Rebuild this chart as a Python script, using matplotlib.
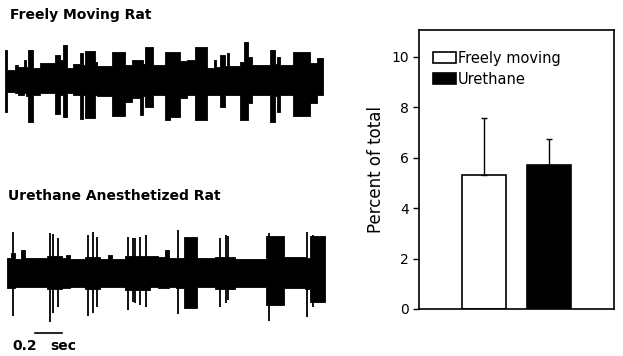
import matplotlib
matplotlib.use("Agg")
import matplotlib.pyplot as plt
import numpy as np

# ---- recordings (time in ms, amplitude in arbitrary units) ----
# freely moving rat: envelope segments (start time, upper, lower)
free_t = [5, 20, 80, 105, 150, 165, 180, 215, 265, 375, 415, 435, 465, 510,
          560, 585, 600, 675, 690, 800, 895, 945, 1005, 1030, 1045, 1105,
          1190, 1230, 1300, 1355, 1415, 1500, 1555, 1570, 1600, 1635, 1650,
          1665, 1745, 1775, 1805, 1835, 1970, 2005, 2020, 2040, 2140, 2265,
          2315, 2360]
free_up = [30, 10, 15, 13, 20, 13, 30, 12, 17, 25, 20, 35, 12, 16, 27, 15, 29,
           18, 14, 28, 15, 20, 20, 16, 33, 15, 28, 28, 19, 20, 33, 12, 20, 13,
           25, 14, 27, 14, 18, 38, 23, 15, 30, 16, 23, 15, 28, 17, 22]
free_lo = [-32, -12, -13, -15, -13, -16, -42, -15, -13, -34, -15, -37, -13,
           -15, -39, -15, -38, -15, -16, -36, -22, -18, -35, -16, -27, -15,
           -40, -37, -18, -15, -40, -15, -15, -15, -27, -15, -15, -15, -40,
           -40, -23, -15, -42, -16, -32, -15, -36, -23, -15]

# urethane anesthetized rat: envelope segments
ure_t = [20, 50, 80, 125, 155, 320, 430, 460, 490, 600, 710, 770, 800, 895,
         1080, 1140, 1190, 1220, 1275, 1330, 1430, 1560, 1710, 1940, 2070,
         2225, 2265, 2375]
ure_up = [15, 20, 14, 23, 15, 17, 15, 18, 14, 16, 14, 18, 14, 17, 17, 16, 23,
          15, 15, 36, 15, 16, 14, 37, 16, 15, 37]
ure_lo = [-15, -15, -14, -14, -14, -16, -15, -15, -14, -16, -14, -14, -14,
          -17, -14, -15, -15, -14, -15, -35, -14, -16, -14, -32, -15, -16, -29]
# single spikes
spk_t = [65, 340, 365, 400, 620, 660, 690, 920, 955, 970, 1005, 1050, 1290,
         1600, 1645, 1660, 1960, 2240, 2285]
spk_up = [41, 40, 39, 35, 38, 41, 36, 36, 35, 35, 36, 38, 43, 35, 38, 37, 40,
          41, 38]
spk_lo = [-43, -49, -40, -34, -43, -40, -34, -37, -29, -30, -32, -34, -41,
          -34, -30, -27, -48, -44, -34]

# ---- bar chart ----
groups = ["Freely moving", "Urethane"]
percent = [5.3, 5.7]
sd = [2.28, 1.06]

fig = plt.figure(figsize=(6.23, 3.56), dpi=100)


def trace(ax, t, up, lo):
    t = np.array(t)
    up = np.append(up, up[-1])
    lo = np.append(lo, lo[-1])
    ax.fill_between(t, lo, up, step="post", color="black", lw=0.6,
                    edgecolor="black")
    ax.set_xlim(0, 2383)
    ax.set_ylim(-50, 50)
    ax.axis("off")


ax1 = fig.add_axes([0.0064, 0.635, 0.517, 0.281])
trace(ax1, free_t, free_up, free_lo)

ax2 = fig.add_axes([0.0064, 0.0927, 0.517, 0.281])
trace(ax2, ure_t, ure_up, ure_lo)
ax2.vlines(spk_t, spk_lo, spk_up, color="black", lw=1.3)

# scale bar 0.2 sec
ax2.plot([230, 430], [-60, -60], color="black", lw=1.2, clip_on=False)
ax2.text(150, -77, "0.2", ha="center", va="baseline", fontsize=10,
         fontweight="bold")
ax2.text(435, -77, "sec", ha="center", va="baseline", fontsize=10,
         fontweight="bold")

fig.text(10 / 623, 1 - 19 / 356, "Freely Moving Rat", fontsize=10,
         fontweight="bold", va="baseline")
fig.text(8 / 623, 1 - 200 / 356, "Urethane Anesthetized Rat", fontsize=10,
         fontweight="bold", va="baseline")

# bar chart
ax3 = fig.add_axes([419 / 623, 1 - 309 / 356, 195 / 623, 279 / 356])
x = [1, 2]
ax3.bar(x[0], percent[0], 0.68, color="white", edgecolor="black", lw=1.2,
        label=groups[0])
ax3.bar(x[1], percent[1], 0.68, color="black", edgecolor="black", lw=1.2,
        label=groups[1])
ax3.errorbar(x, percent, yerr=[[0, 0], sd], fmt="none", ecolor="black",
             elinewidth=1, capsize=2)
ax3.set_xlim(0, 3)
ax3.set_ylim(0, 11.07)
ax3.set_xticks([])
ax3.set_yticks([0, 2, 4, 6, 8, 10])
ax3.tick_params(axis="y", direction="out", length=4, width=1, labelsize=10)
for s in ax3.spines.values():
    s.set_linewidth(1.2)
ax3.set_ylabel("Percent of total", fontsize=12)
ax3.legend(loc="upper left", bbox_to_anchor=(0.072, 0.925), frameon=False,
           handlelength=1.6, handleheight=0.75, handletextpad=0.1,
           labelspacing=0.4, borderpad=0, borderaxespad=0, fontsize=10.5)

fig.savefig("out.png", dpi=100)
